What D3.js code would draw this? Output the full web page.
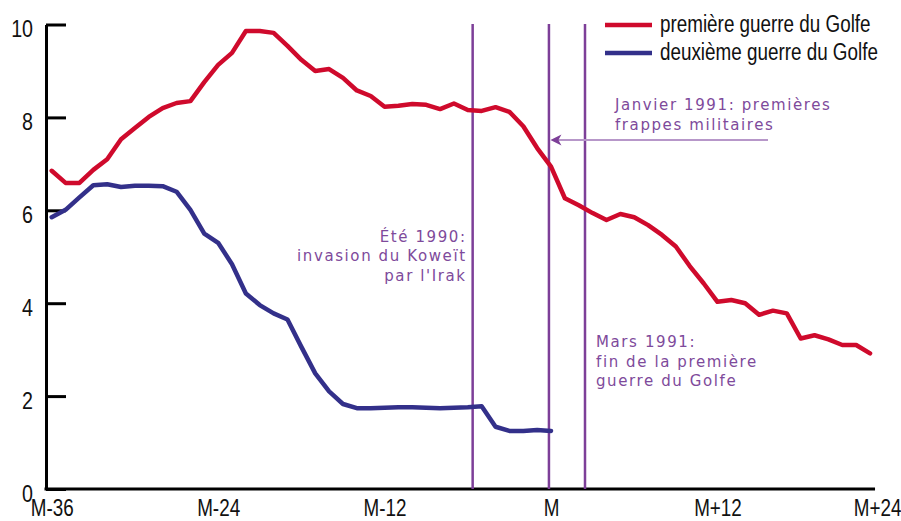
<!DOCTYPE html>
<html>
<head>
<meta charset="utf-8">
<script src="https://cdn.jsdelivr.net/npm/d3@7/dist/d3.min.js"></script>
<style>
  html, body { margin: 0; padding: 0; background: #fff; }
  svg { display: block; }
</style>
</head>
<body>
<svg id="chart" width="901" height="521"></svg>
<script>
// ---------- DATA ----------
const startMonth = -36; // M-36
const seriesNames = ["première guerre du Golfe", "deuxième guerre du Golfe"];
const firstGulfWar = [
  6.85, 6.59, 6.59, 6.87, 7.10, 7.53, 7.77, 8.01, 8.20, 8.31, 8.35, 8.76,
  9.13, 9.39, 9.86, 9.86, 9.82, 9.54, 9.24, 9.00, 9.04, 8.85, 8.58, 8.46,
  8.23, 8.25, 8.29, 8.27, 8.18, 8.30, 8.16, 8.14, 8.22, 8.12, 7.81, 7.34,
  6.94, 6.26, 6.11, 5.94, 5.79, 5.92, 5.85, 5.68, 5.47, 5.22, 4.80, 4.43,
  4.03, 4.07, 4.00, 3.75, 3.84, 3.78, 3.24, 3.31, 3.22, 3.10, 3.10, 2.92
];
const secondGulfWar = [
  5.85, 6.01, 6.28, 6.54, 6.56, 6.50, 6.53, 6.53, 6.52, 6.40, 6.01, 5.50,
  5.30, 4.84, 4.21, 3.96, 3.78, 3.65, 3.06, 2.49, 2.10, 1.83, 1.74, 1.74,
  1.75, 1.76, 1.76, 1.75, 1.74, 1.75, 1.76, 1.78, 1.34, 1.25, 1.25, 1.27,
  1.25
];
const xTickMonths = [-36, -24, -12, 0, 12, 24];
const xTickLabels = ["M-36", "M-24", "M-12", "M", "M+12", "M+24"];
const yTicks = [0, 2, 4, 6, 8, 10];
const eventMonths = [-5.65, -0.15, 2.45];
const eventLabels = [
  ["Été 1990:", "invasion du Koweït", "par l'Irak"],
  ["Janvier 1991: premières", "frappes militaires"],
  ["Mars 1991:", "fin de la première", "guerre du Golfe"]
];

// ---------- STYLE ----------
const RED = "#cf0a2c";
const BLUE = "#33308a";
const PURPLE = "#7d3f98";
const PURPLE_TEXT = "#7e4a9b";
const PURPLE_LIGHT = "#b797c9";
const SANS = "'Liberation Sans', Arial, sans-serif";
const WIDE = "'DejaVu Sans', Verdana, sans-serif";
const SQUEEZE = 0.82; // condensed look

const svg = d3.select("#chart");

const x = d3.scaleLinear().domain([-36, 24]).range([51.7, 883.9]);
const y = d3.scaleLinear().domain([0, 10]).range([489, 24.5]);
const axisX = 46;

const redData = firstGulfWar.map((v, i) => ({ m: startMonth + i, v }));
const blueData = secondGulfWar.map((v, i) => ({ m: startMonth + i, v }));

// ---------- AXES ----------
const yAxis = d3.axisLeft(y)
  .tickValues(yTicks)
  .tickSizeInner(-20)
  .tickSizeOuter(0)
  .tickPadding(13)
  .tickFormat(d3.format("d"));

const gy = svg.append("g").attr("transform", `translate(${axisX},0)`).call(yAxis);
gy.select(".domain").attr("stroke", "#000").attr("stroke-width", 3);
gy.selectAll(".tick line").attr("stroke", "#000").attr("stroke-width", 3);
gy.selectAll(".tick text")
  .attr("font-family", SANS).attr("font-size", 24).attr("fill", "#111")
  .attr("x", -13 / SQUEEZE)
  .attr("transform", `scale(${SQUEEZE},1)`)
  .attr("dy", "0.5em");

const xAxis = d3.axisBottom(x)
  .tickValues(xTickMonths)
  .tickSize(0)
  .tickPadding(11)
  .tickFormat((d, i) => xTickLabels[i]);

const gx = svg.append("g").attr("transform", `translate(0,${y(0)})`).call(xAxis);
gx.select(".domain").remove();
gx.selectAll(".tick text")
  .attr("font-family", SANS).attr("font-size", 23).attr("fill", "#111")
  .attr("transform", `scale(${SQUEEZE},1)`);
// keep last label inside the frame
gx.selectAll(".tick text").filter((d, i) => i === xTickMonths.length - 1)
  .attr("text-anchor", "end").attr("x", 17 / SQUEEZE);

svg.append("line")
  .attr("x1", axisX - 1.5).attr("x2", x(23) + 5)
  .attr("y1", y(0)).attr("y2", y(0))
  .attr("stroke", "#000").attr("stroke-width", 3);

// ---------- EVENT LINES ----------
svg.append("g").selectAll("line").data(eventMonths).join("line")
  .attr("x1", d => x(d)).attr("x2", d => x(d))
  .attr("y1", y(10) - 0.5).attr("y2", y(0))
  .attr("stroke", PURPLE).attr("stroke-width", 2.5);

// ---------- SERIES ----------
const line = d3.line().x(d => x(d.m)).y(d => y(d.v));

svg.append("path").datum(blueData)
  .attr("d", line).attr("fill", "none")
  .attr("stroke", BLUE).attr("stroke-width", 4.5)
  .attr("stroke-linejoin", "round").attr("stroke-linecap", "round");

svg.append("path").datum(redData)
  .attr("d", line).attr("fill", "none")
  .attr("stroke", RED).attr("stroke-width", 4.5)
  .attr("stroke-linejoin", "round").attr("stroke-linecap", "round");

// ---------- ANNOTATIONS ----------
function block(lines, xPos, y0, anchor) {
  const t = svg.append("text")
    .attr("font-family", WIDE).attr("font-size", 15)
    .attr("letter-spacing", "1.6px")
    .attr("fill", PURPLE_TEXT).attr("text-anchor", anchor);
  lines.forEach((s, i) => {
    t.append("tspan").attr("x", xPos).attr("y", y0 + i * 19.5).text(s);
  });
}
block(eventLabels[0], x(eventMonths[0]) - 6, 241.5, "end");
block(eventLabels[1], x(eventMonths[1]) + 66, 110, "start");
block(eventLabels[2], x(eventMonths[2]) + 11, 347, "start");

// arrow to January line
const arrowY = 140;
svg.append("line")
  .attr("x1", x(eventMonths[1]) + 8).attr("x2", 768)
  .attr("y1", arrowY).attr("y2", arrowY)
  .attr("stroke", PURPLE_LIGHT).attr("stroke-width", 2);
const tipX = x(eventMonths[1]) + 1.5;
svg.append("path")
  .attr("d", `M${tipX},${arrowY} L${tipX + 11},${arrowY - 5.5} L${tipX + 8},${arrowY} L${tipX + 11},${arrowY + 5.5} Z`)
  .attr("fill", PURPLE);

// ---------- LEGEND ----------
const legend = svg.append("g");
const legendColors = [RED, BLUE];
const legendY = [25, 53];
seriesNames.forEach((name, i) => {
  legend.append("line")
    .attr("x1", 605).attr("x2", 652)
    .attr("y1", legendY[i]).attr("y2", legendY[i])
    .attr("stroke", legendColors[i]).attr("stroke-width", 4.5);
  legend.append("text")
    .attr("transform", `translate(660,${legendY[i] + 7}) scale(${SQUEEZE},1)`)
    .attr("font-family", SANS).attr("font-size", 23).attr("fill", "#111")
    .text(name);
});
</script>
</body>
</html>
